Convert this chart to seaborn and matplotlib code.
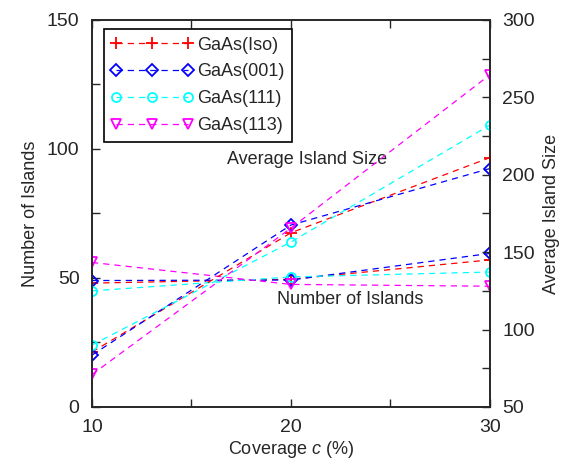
import pandas as pd
import matplotlib.pyplot as plt
import seaborn as sns
from matplotlib.ticker import MultipleLocator

# Data
coverage = [10, 20, 30]
samples = ['GaAs(Iso)', 'GaAs(001)', 'GaAs(111)', 'GaAs(113)']
n_islands = {
    'GaAs(Iso)': [48, 49.5, 57],
    'GaAs(001)': [49, 49.2, 59.5],
    'GaAs(111)': [45, 50.4, 52.3],
    'GaAs(113)': [56, 47.5, 46.8],
}
avg_size = {
    'GaAs(Iso)': [85.5, 162.5, 211],
    'GaAs(001)': [83.5, 167.5, 204],
    'GaAs(111)': [90, 156.5, 232],
    'GaAs(113)': [71, 165.5, 264.5],
}

colors = ['red', 'blue', 'cyan', 'magenta']
markers = ['+', 'D', 'o', 'v']

sns.set_style('ticks')
plt.rcParams['font.family'] = ['Liberation Sans', 'DejaVu Sans']
plt.rcParams['mathtext.fontset'] = 'custom'
plt.rcParams['mathtext.it'] = 'Liberation Sans:italic'

fig = plt.figure(figsize=(5.61, 4.63), dpi=100)
ax = fig.add_axes([0.164, 0.121, 0.709, 0.836])
ax2 = ax.twinx()

handles = []
for s, c, m in zip(samples, colors, markers):
    df_n = pd.DataFrame({'c': coverage, 'v': n_islands[s]})
    df_s = pd.DataFrame({'c': coverage, 'v': avg_size[s]})
    kw = dict(color=c, marker=m, linestyle=(0, (5, 4)), linewidth=0.9,
              markersize=8 if m == '+' else 6.5, markerfacecolor='none',
              markeredgecolor=c, markeredgewidth=1.3)
    sns.lineplot(data=df_n, x='c', y='v', ax=ax, **kw)
    sns.lineplot(data=df_s, x='c', y='v', ax=ax2, **kw)
    handles.append(ax.lines[-1])

ax.set_xlim(10, 30)
ax.set_ylim(0, 150)
ax2.set_ylim(50, 300)
ax.xaxis.set_major_locator(MultipleLocator(10))
ax.xaxis.set_minor_locator(MultipleLocator(5))
ax.yaxis.set_major_locator(MultipleLocator(50))
ax.yaxis.set_minor_locator(MultipleLocator(25))
ax2.yaxis.set_major_locator(MultipleLocator(50))
ax2.yaxis.set_minor_locator(MultipleLocator(25))

for a in (ax, ax2):
    a.tick_params(which='both', direction='in', labelsize=14, top=True, pad=9)
    a.tick_params(which='major', length=6, width=1)
    a.tick_params(which='minor', length=6, width=1)
    for sp in a.spines.values():
        sp.set_linewidth(1.2)
        sp.set_visible(True)

ax.set_xlabel('Coverage $c$ (%)', fontsize=13, labelpad=2)
ax.set_ylabel('Number of Islands', fontsize=13, labelpad=6)
ax2.set_ylabel('Average Island Size', fontsize=13, labelpad=6)

ax.text(16.8, 96, 'Average Island Size', fontsize=13, va='center')
ax.text(19.3, 41.5, 'Number of Islands', fontsize=13, va='center')

leg = ax2.legend(handles, samples, loc='upper left', bbox_to_anchor=(0.02, 0.985),
                 numpoints=3, fontsize=13, frameon=True, fancybox=False,
                 handlelength=4.6, handletextpad=0.2, borderpad=0.4,
                 labelspacing=0.55, borderaxespad=0.2)
leg.get_frame().set_edgecolor('black')
leg.get_frame().set_linewidth(1.2)
leg.get_frame().set_alpha(1)

fig.savefig('out.png', dpi=100)
